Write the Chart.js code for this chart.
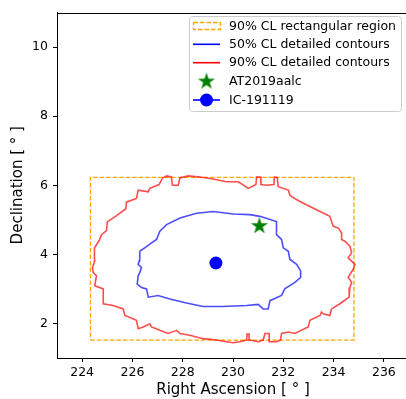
<!DOCTYPE html>
<html>
<head>
<meta charset="utf-8">
<script src="https://cdn.jsdelivr.net/npm/chart.js@4"></script>
<style>
  html, body { margin: 0; padding: 0; overflow: hidden; background: #fff; }
  #wrap { width: 410px; height: 399px; }
</style>
</head>
<body>
<div id="wrap"><canvas id="skymap" width="410" height="399"></canvas></div>
<script>
const FONT = "'DejaVu Sans', sans-serif";

// axes ticks
const xTicks = [224, 226, 228, 230, 232, 234, 236];
const yTicks = [2, 4, 6, 8, 10];

// 90% CL rectangle
const rectRA  = [224.33, 234.81, 234.81, 224.33, 224.33];
const rectDec = [1.52, 1.52, 6.23, 6.23, 1.52];

// 90% CL detailed contour
const ra90 = [
  224.41,224.50,224.48,224.50,224.68,224.77,224.97,225.00,225.37,225.74,
  225.76,226.16,226.23,226.63,226.69,227.06,227.20,227.36,227.55,227.59,
  227.82,227.89,228.22,228.68,229.21,229.74,230.21,230.61,230.91,230.94,
  231.10,231.11,231.33,231.63,231.64,231.76,231.80,232.20,232.26,232.33,
  232.66,233.32,233.85,233.92,233.99,234.19,234.32,234.32,234.45,234.65,
  234.72,234.58,234.85,234.78,234.58,234.72,234.65,234.62,234.25,233.92,
  233.85,233.59,233.52,233.46,233.06,232.99,232.46,232.20,231.93,231.89,
  231.73,231.47,231.44,231.27,231.20,231.00,230.67,230.64,230.56,230.54,
  230.27,230.01,229.74,229.34,228.81,228.28,227.89,227.76,227.42,227.09,
  226.76,226.69,226.43,226.23,226.16,225.70,225.63,225.23,224.84,224.84,
  224.50,224.57,224.44,224.41
];
const dec90 = [
  3.62,3.81,4.00,4.19,4.40,4.57,4.69,4.94,5.12,5.32,
  5.51,5.62,5.86,5.81,5.91,6.02,6.21,6.27,6.24,6.00,
  6.00,6.21,6.27,6.24,6.18,6.10,6.10,5.91,6.02,6.24,
  6.24,6.02,6.00,6.02,6.24,6.22,5.96,5.86,5.72,5.67,
  5.53,5.29,5.10,4.95,4.81,4.76,4.62,4.43,4.38,4.24,
  4.05,3.90,3.71,3.57,3.33,3.19,3.04,2.76,2.57,2.42,
  2.23,2.28,2.33,2.23,2.09,1.90,1.71,1.75,1.71,1.52,
  1.47,1.47,1.71,1.71,1.52,1.47,1.52,1.69,1.69,1.52,
  1.47,1.44,1.47,1.52,1.56,1.66,1.71,1.80,1.71,1.80,
  1.90,1.99,1.90,1.85,2.09,2.23,2.42,2.52,2.57,3.00,
  3.09,3.38,3.47,3.62
];

// 50% CL detailed contour
const ra50 = [
  226.29,226.49,226.76,226.96,227.09,227.36,227.89,228.55,229.21,230.01,
  230.67,231.07,231.73,231.73,231.93,232.00,232.20,232.26,232.53,232.69,
  232.69,232.46,232.06,231.93,231.47,231.40,231.20,231.00,230.54,229.61,
  228.81,228.15,227.49,227.02,226.63,226.56,226.36,226.19,226.23,226.29,
  226.36,226.23,226.27,226.29
];
const dec50 = [
  4.09,4.19,4.33,4.43,4.67,4.86,5.05,5.19,5.24,5.17,
  5.15,5.10,4.95,4.57,4.43,4.19,4.09,3.86,3.71,3.52,
  3.33,3.19,3.00,2.81,2.66,2.42,2.42,2.55,2.52,2.49,
  2.49,2.59,2.71,2.81,2.76,3.00,3.04,3.14,3.38,3.47,
  3.62,3.71,3.81,4.09
];

// sources
const starRA = [231.05], starDec = [4.82];
const nuRA = [229.32], nuDec = [3.75];

const labels = [
  "90% CL rectangular region",
  "50% CL detailed contours",
  "90% CL detailed contours",
  "AT2019aalc",
  "IC-191119"
];

const pts = (xs, ys) => xs.map((x, i) => ({ x: x, y: ys[i] }));

// filled five point star used as marker
function makeStar(R, color) {
  const c = document.createElement('canvas');
  const s = Math.ceil(R * 2 + 2);
  c.width = s; c.height = s;
  const g = c.getContext('2d');
  const r = R * 0.382;
  g.beginPath();
  for (let k = 0; k < 10; k++) {
    const rad = k % 2 === 0 ? R : r;
    const a = -Math.PI / 2 + k * Math.PI / 5;
    const px = s / 2 + rad * Math.cos(a), py = s / 2 + rad * Math.sin(a);
    k === 0 ? g.moveTo(px, py) : g.lineTo(px, py);
  }
  g.closePath();
  g.fillStyle = color;
  g.fill();
  return c;
}
const starImg = makeStar(9, '#008000');

// frame on top + legend box, matplotlib style
const framePlugin = {
  id: 'frame',
  afterDraw(chart) {
    const { ctx, chartArea: a } = chart;
    ctx.save();
    ctx.strokeStyle = '#000';
    ctx.lineWidth = 1;
    ctx.beginPath();
    ctx.moveTo(a.left, Math.round(a.top) + 0.5);
    ctx.lineTo(a.right, Math.round(a.top) + 0.5);
    ctx.moveTo(Math.round(a.right) - 0.5, a.top);
    ctx.lineTo(Math.round(a.right) - 0.5, a.bottom);
    ctx.stroke();

    // legend
    const bx = 189.5, by = 16.5, bw = 212, bh = 95;
    ctx.beginPath();
    ctx.roundRect(bx, by, bw, bh, 3);
    ctx.fillStyle = 'rgba(255,255,255,0.8)';
    ctx.fill();
    ctx.strokeStyle = '#cccccc';
    ctx.stroke();

    const x0 = 193, x1 = 220, xm = (x0 + x1) / 2;
    const rows = [26, 44.3, 62.7, 81.5, 100];

    ctx.setLineDash([4.5, 2]);
    ctx.strokeStyle = '#ffa500';
    ctx.lineWidth = 1.3;
    ctx.strokeRect(x0 + 0.5, rows[0] - 3.5, x1 - x0, 7);
    ctx.setLineDash([]);

    ctx.lineWidth = 1.6;
    ctx.strokeStyle = '#0000ff';
    ctx.beginPath(); ctx.moveTo(x0, rows[1]); ctx.lineTo(x1, rows[1]); ctx.stroke();
    ctx.strokeStyle = '#ff0000';
    ctx.beginPath(); ctx.moveTo(x0, rows[2]); ctx.lineTo(x1, rows[2]); ctx.stroke();

    ctx.drawImage(starImg, xm - starImg.width / 2, rows[3] - starImg.height / 2);

    ctx.strokeStyle = '#0000ff';
    ctx.beginPath(); ctx.moveTo(x0, rows[4]); ctx.lineTo(x1, rows[4]); ctx.stroke();
    ctx.fillStyle = '#0000ff';
    ctx.beginPath(); ctx.arc(xm, rows[4], 6.5, 0, Math.PI * 2); ctx.fill();

    ctx.fillStyle = '#000';
    ctx.font = '12.5px ' + FONT;
    ctx.textBaseline = 'middle';
    ctx.textAlign = 'left';
    labels.forEach((t, i) => ctx.fillText(t, 229, rows[i] + 0.5));
    ctx.restore();
  }
};

new Chart(document.getElementById('skymap'), {
  type: 'scatter',
  data: {
    datasets: [
      {
        label: labels[4], data: pts(nuRA, nuDec), order: 0,
        pointRadius: 6.5, pointBackgroundColor: '#0000ff', pointBorderWidth: 0
      },
      {
        label: labels[3], data: pts(starRA, starDec), order: 1,
        pointStyle: starImg, pointRadius: 9
      },
      {
        label: labels[2], data: pts(ra90, dec90), order: 2,
        showLine: true, pointRadius: 0, borderColor: 'rgba(255,0,0,0.7)', borderWidth: 1.6
      },
      {
        label: labels[1], data: pts(ra50, dec50), order: 3,
        showLine: true, pointRadius: 0, borderColor: 'rgba(0,0,255,0.7)', borderWidth: 1.6
      },
      {
        label: labels[0], data: pts(rectRA, rectDec), order: 4,
        showLine: true, pointRadius: 0, borderColor: '#ffa500', borderWidth: 1.3,
        borderDash: [4.5, 2]
      }
    ]
  },
  options: {
    responsive: false,
    animation: false,
    devicePixelRatio: 1,
    layout: { autoPadding: false, padding: { top: 9, right: 1, left: 0, bottom: 0 } },
    plugins: { legend: { display: false }, tooltip: { enabled: false } },
    scales: {
      x: {
        type: 'linear', min: 223, max: 237,
        afterBuildTicks: s => { s.ticks = xTicks.map(v => ({ value: v })); },
        afterFit: s => { s.height = 41; },
        grid: { drawOnChartArea: false, tickLength: 4, color: '#000', lineWidth: 1 },
        border: { color: '#000', width: 1 },
        ticks: { color: '#000', font: { family: FONT, size: 12.5 }, padding: 3, maxRotation: 0, autoSkip: false },
        title: { display: true, text: 'Right Ascension [ ° ]', color: '#000', font: { family: FONT, size: 15 }, padding: { top: 0, bottom: 0 } }
      },
      y: {
        type: 'linear', min: 1, max: 11,
        afterBuildTicks: s => { s.ticks = yTicks.map(v => ({ value: v })); },
        afterFit: s => { s.width = 57; },
        grid: { drawOnChartArea: false, tickLength: 4, color: '#000', lineWidth: 1 },
        border: { color: '#000', width: 1 },
        ticks: { color: '#000', font: { family: FONT, size: 12.5 }, padding: 5, autoSkip: false },
        title: { display: true, text: 'Declination [ ° ]', color: '#000', font: { family: FONT, size: 15 }, padding: { top: 9, bottom: 0 } }
      }
    }
  },
  plugins: [framePlugin]
});
</script>
</body>
</html>
